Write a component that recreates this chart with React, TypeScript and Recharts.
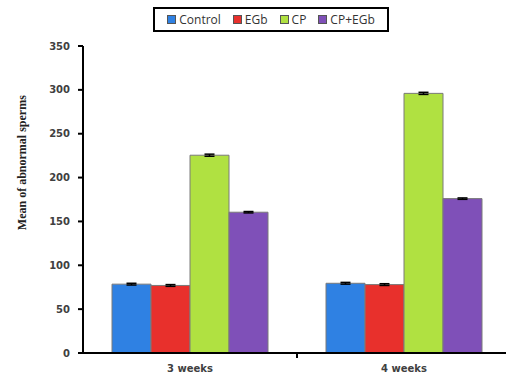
import React from 'react';
import { BarChart, Bar, XAxis, YAxis, ErrorBar, Legend } from 'recharts';

const categories = ['3 weeks', '4 weeks'];
const controlValues = [78.5, 79.5];
const egbValues = [77, 78];
const cpValues = [225.5, 296];
const cpEgbValues = [160.5, 176];
const controlErr = [1, 1];
const egbErr = [1, 1];
const cpErr = [1.2, 1.2];
const cpEgbErr = [0.8, 0.8];
const yTicks = [0, 50, 100, 150, 200, 250, 300, 350];

const series = [
  { key: 'control', name: 'Control', color: '#2f81e3', values: controlValues, err: controlErr },
  { key: 'egb', name: 'EGb', color: '#e8302c', values: egbValues, err: egbErr },
  { key: 'cp', name: 'CP', color: '#b0e141', values: cpValues, err: cpErr },
  { key: 'cpegb', name: 'CP+EGb', color: '#7f50b8', values: cpEgbValues, err: cpEgbErr },
];

const data = categories.map((c, i) => {
  const row: any = { category: c };
  series.forEach((s) => {
    row[s.key] = s.values[i];
    row[s.key + 'Err'] = s.err[i];
  });
  return row;
});

const renderLegend = () => (
  <div
    style={{
      boxSizing: 'border-box',
      width: '100%',
      height: '100%',
      border: '2px solid #000',
      display: 'flex',
      alignItems: 'center',
      justifyContent: 'center',
      gap: 12,
      fontFamily: '"Open Sans", sans-serif',
      fontSize: 12,
      color: '#333',
      background: '#fff',
    }}
  >
    {series.map((s) => (
      <div key={s.key} style={{ display: 'flex', alignItems: 'center' }}>
        <span
          style={{
            display: 'inline-block',
            width: 7,
            height: 7,
            background: s.color,
            border: '1px solid #555',
            marginRight: 3,
          }}
        />
        <span>{s.name}</span>
      </div>
    ))}
  </div>
);

const YLabel = (props: any) => {
  const { viewBox } = props;
  const x = viewBox.x + 22;
  const y = viewBox.y + viewBox.height * 0.38;
  return (
    <text
      x={x}
      y={y}
      transform={`rotate(-90, ${x}, ${y})`}
      textAnchor="middle"
      dominantBaseline="central"
      fontFamily='"Liberation Serif", serif'
      fontWeight="bold"
      fontSize={12}
      fill="#222"
    >
      Mean of abnormal sperms
    </text>
  );
};

const CatTick = (props: any) => {
  const { x, y, payload, index, visibleTicksCount } = props;
  const half = payload && typeof payload.offset === 'number' ? payload.offset : 0;
  const axisY = y - 12;
  return (
    <g>
      <text
        x={x}
        y={y}
        dy="0.71em"
        textAnchor="middle"
        fill="#404040"
        fontSize={10}
        fontWeight="bold"
        fontFamily='"DejaVu Sans", sans-serif'
      >
        {payload.value}
      </text>
      {half > 0 && index < (visibleTicksCount ?? categories.length) - 1 ? (
        <line x1={x + half} x2={x + half} y1={axisY} y2={axisY + 5} stroke="#000" strokeWidth={2} />
      ) : null}
    </g>
  );
};

export default function App() {
  return (
    <div style={{ position: 'absolute', left: 0, top: 0, width: 506, height: 381, overflow: 'hidden', background: '#fff' }}>
      <BarChart
        width={511}
        height={381}
        data={data}
        margin={{ top: 46, right: 0, bottom: 0, left: 0 }}
        barCategoryGap={29}
        barGap={0}
      >
        <XAxis
          dataKey="category"
          height={28}
          tickLine={false}
          tickSize={6}
          tickMargin={6}
          axisLine={{ stroke: '#000', strokeWidth: 2 }}
          tick={<CatTick />}
          interval={0}
        />
        <YAxis
          width={83}
          domain={[0, 350]}
          ticks={yTicks}
          interval={0}
          tickSize={5}
          tickMargin={8}
          axisLine={{ stroke: '#000', strokeWidth: 2 }}
          tickLine={{ stroke: '#000', strokeWidth: 2 }}
          tick={{ fill: '#404040', fontSize: 10, fontWeight: 'bold', fontFamily: '"DejaVu Sans", sans-serif' }}
          label={<YLabel />}
        />
        <Legend
          verticalAlign="middle"
          layout="horizontal"
          content={renderLegend}
          wrapperStyle={{ top: 7, left: 153, width: 236, height: 25 }}
        />
        {series.map((s) => (
          <Bar
            key={s.key}
            dataKey={s.key}
            name={s.name}
            fill={s.color}
            stroke="#7a7a7a"
            strokeWidth={1}
            isAnimationActive={false}
          >
            <ErrorBar dataKey={s.key + 'Err'} width={5} stroke="#000" strokeWidth={1.5} />
          </Bar>
        ))}
      </BarChart>
    </div>
  );
}
